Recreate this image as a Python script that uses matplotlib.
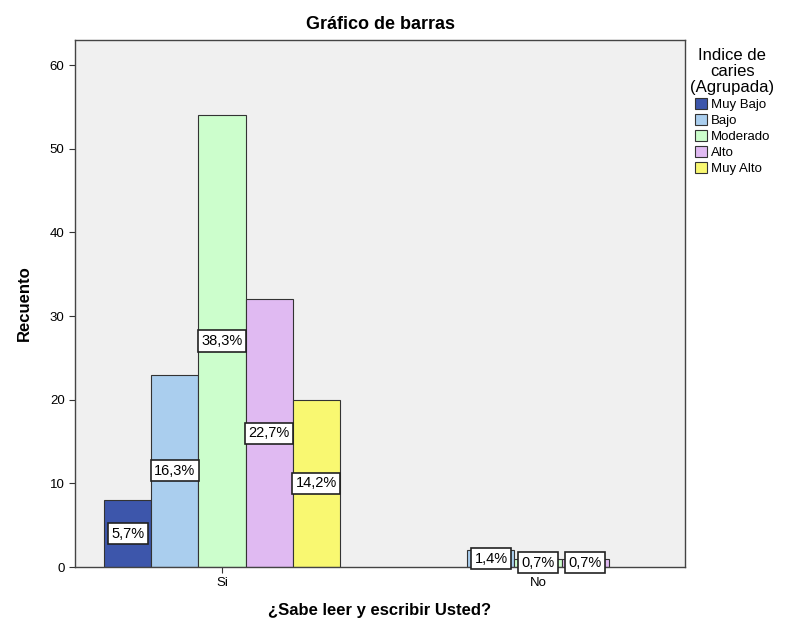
import matplotlib.pyplot as plt
import numpy as np

plt.rcParams['font.family'] = ['Liberation Sans', 'DejaVu Sans']

groups = ['Si', 'No']
levels = ['Muy Bajo', 'Bajo', 'Moderado', 'Alto', 'Muy Alto']
counts_si = [8, 23, 54, 32, 20]
counts_no = [0, 2, 1, 1, 0]
labels_si = ['5,7%', '16,3%', '38,3%', '22,7%', '14,2%']
labels_no = ['', '1,4%', '0,7%', '0,7%', '']
colors = ['#3D56AB', '#AACEEE', '#CCFECC', '#E0BAF2', '#F9F871']

fig = plt.figure(figsize=(7.9, 6.24), dpi=100)
ax = fig.add_axes([75/790, 1 - 567/624, 610/790, 527/624])
ax.set_facecolor('#F0F0F0')

x = np.arange(len(groups))
w = 0.149
allCounts = [counts_si, counts_no]
allLabels = [labels_si, labels_no]
for i, level in enumerate(levels):
    vals = [c[i] for c in allCounts]
    pos = x + (i - 2) * w
    for p, v, lab in zip(pos, vals, [l[i] for l in allLabels]):
        if v > 0:
            ax.bar(p, v, width=w, color=colors[i], edgecolor='#333333', linewidth=0.8, zorder=2)
            ax.text(p, v / 2, lab, ha='center', va='center', fontsize=10.5, zorder=3,
                    bbox=dict(boxstyle='square,pad=0.25', facecolor='white', edgecolor='#222222', linewidth=1.2))
    ax.bar(0, 0, width=0, color=colors[i], edgecolor='#333333', linewidth=0.8, label=level)

ax.set_xlim(-0.465, 1.465)
ax.set_ylim(0, 63)
ax.set_yticks(range(0, 61, 10))
ax.set_xticks(x)
ax.set_xticklabels(groups)
ax.tick_params(labelsize=9.5, color='#333333', length=4)
for s in ax.spines.values():
    s.set_color('#444444')
    s.set_linewidth(1)

ax.set_title('Gráfico de barras', fontsize=13, fontweight='bold', pad=8)
ax.set_ylabel('Recuento', fontsize=12, fontweight='bold', labelpad=13)
ax.set_xlabel('¿Sabe leer y escribir Usted?', fontsize=12, fontweight='bold', labelpad=10)

leg = ax.legend(title='Indice de\ncaries\n(Agrupada)', loc='upper left', bbox_to_anchor=(1.0, 0.995),
                frameon=False, fontsize=9.5, title_fontsize=12, handlelength=0.9, handleheight=0.9,
                handletextpad=0.3, labelspacing=0.22, borderaxespad=0.3, borderpad=0.1,
                alignment='center')
leg.get_title().set_multialignment('center')
leg.get_title().set_linespacing(1.1)
leg._legend_handle_box.align = 'left'

plt.savefig('out.png', dpi=100)
